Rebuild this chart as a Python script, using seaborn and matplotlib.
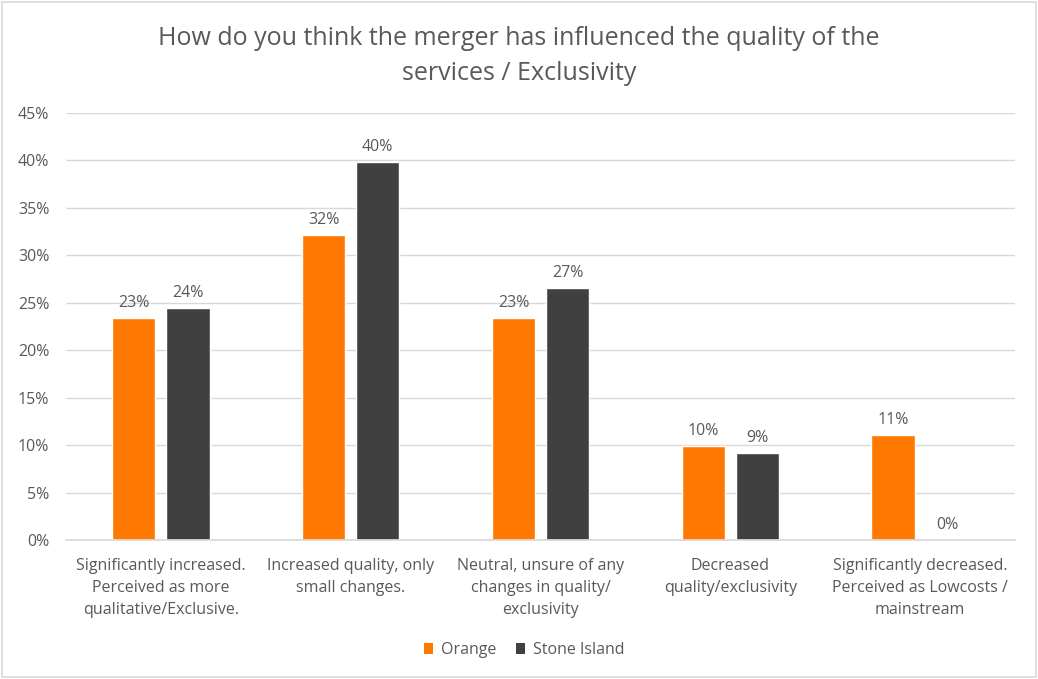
import matplotlib
matplotlib.use("Agg")
import matplotlib.pyplot as plt
import seaborn as sns
import pandas as pd
from matplotlib.patches import Patch, Rectangle
from matplotlib.ticker import FuncFormatter

categories = [
    "Significantly increased.\nPerceived as more\nqualitative/Exclusive.",
    "Increased quality, only\nsmall changes.",
    "Neutral, unsure of any\nchanges in quality/\nexclusivity",
    "Decreased\nquality/exclusivity",
    "Significantly decreased.\nPerceived as Lowcosts /\nmainstream",
]
series = ["Orange", "Stone Island"]
orange_vals = [0.234, 0.321, 0.234, 0.099, 0.111]
stone_vals = [0.245, 0.398, 0.266, 0.092, 0.0]
colors = ["#FF7900", "#404040"]
title = "How do you think the merger has influenced the quality of the\nservices / Exclusivity"

df = pd.DataFrame({
    "category": categories * 2,
    "series": [series[0]] * 5 + [series[1]] * 5,
    "value": orange_vals + stone_vals,
})

sns.set_theme(style="white")
plt.rcParams["font.family"] = ["Open Sans", "DejaVu Sans"]
text_color = "#595959"

fig = plt.figure(figsize=(10.38, 6.79), dpi=100)
ax = fig.add_axes([66 / 1038, 1 - 540 / 679, (1015 - 66) / 1038, (540 - 113) / 679])

sns.barplot(data=df, x="category", y="value", hue="series", palette=colors,
            width=0.57, gap=0.2, ax=ax, legend=False, saturation=1)

ax.set_ylim(0, 0.45)
ax.set_yticks([i * 0.05 for i in range(10)])
ax.yaxis.set_major_formatter(FuncFormatter(lambda v, p: f"{v * 100:.0f}%"))
ax.grid(axis="y", color="#D9D9D9", linewidth=1)
ax.set_axisbelow(True)
for s in ["left", "right", "top"]:
    ax.spines[s].set_visible(False)
ax.spines["bottom"].set_color("#D9D9D9")
ax.tick_params(axis="both", length=0, colors=text_color, labelsize=11.5)
ax.tick_params(axis="y", pad=12)
ax.tick_params(axis="x", pad=13)
for lbl in ax.get_xticklabels():
    lbl.set_linespacing(1.5)
ax.set_xlabel("")
ax.set_ylabel("")

for cont in ax.containers:
    ax.bar_label(cont, labels=[f"{v * 100:.0f}%" for v in cont.datavalues],
                 padding=5, color=text_color, fontsize=11.5)

fig.text(0.5, 1 - 56 / 679, title, ha="center", va="center", fontsize=18,
         color=text_color, linespacing=1.5)

handles = [Patch(facecolor=c, edgecolor="none") for c in colors]
fig.legend(handles, series, loc="center", bbox_to_anchor=(0.505, 1 - 650 / 679),
           ncol=2, frameon=False, fontsize=11.5, labelcolor=text_color,
           handlelength=0.6, handleheight=0.7, handletextpad=0.5, columnspacing=1.2)

fig.patches.append(Rectangle((2 / 1038, 2 / 679), 1 - 4 / 1038, 1 - 4 / 679,
                             transform=fig.transFigure, fill=False,
                             edgecolor="#D9D9D9", linewidth=1.2))

fig.savefig("out.png", dpi=100)
